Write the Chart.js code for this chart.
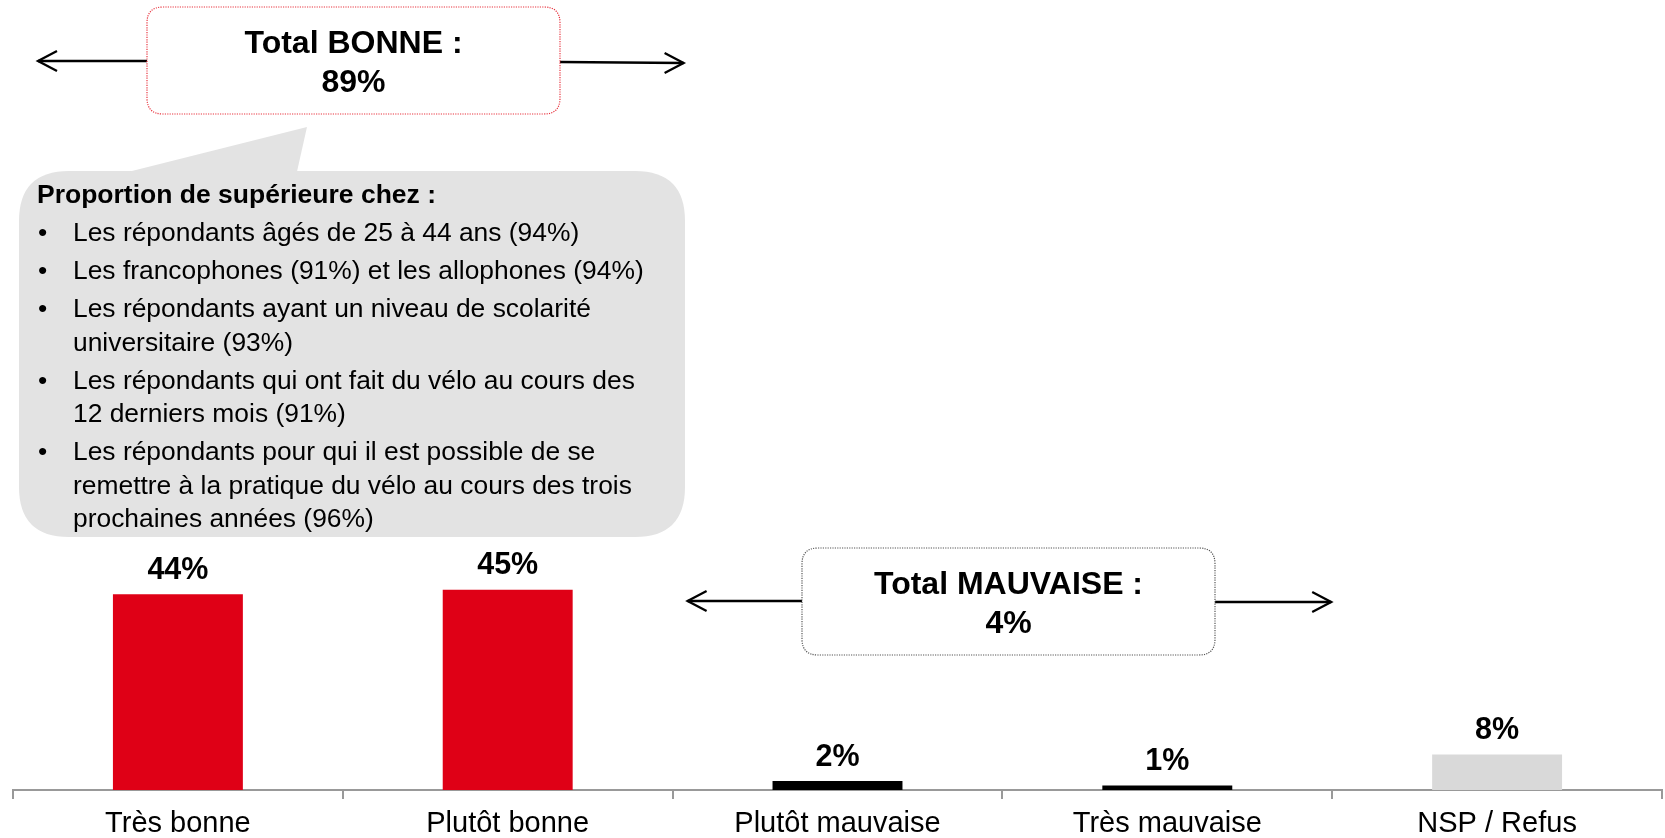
<!DOCTYPE html>
<html>
<head>
<meta charset="utf-8">
<script src="https://cdn.jsdelivr.net/npm/chart.js"></script>
<style>
  html, body { margin: 0; padding: 0; background: #fff; }
  #wrap { position: relative; width: 1665px; height: 838px; }
</style>
</head>
<body>
<div id="wrap"><canvas id="chart" width="1665" height="838"></canvas></div>
<script>
  // data
  const categories = ['Très bonne', 'Plutôt bonne', 'Plutôt mauvaise', 'Très mauvaise', 'NSP / Refus'];
  const values = [44, 45, 2, 1, 8];
  const barColors = ['#df0016', '#df0016', '#000000', '#000000', '#d9d9d9'];
  const totalGood = ['Total BONNE :', '89%'];
  const totalBad = ['Total MAUVAISE :', '4%'];
  const noteTitle = 'Proportion de supérieure chez :';
  const noteBullets = [
    ['Les répondants âgés de 25 à 44 ans (94%)'],
    ['Les francophones (91%) et les allophones (94%)'],
    ['Les répondants ayant un niveau de scolarité', 'universitaire (93%)'],
    ['Les répondants qui ont fait du vélo au cours des', '12 derniers mois (91%)'],
    ['Les répondants pour qui il est possible de se', 'remettre à la pratique du vélo au cours des trois', 'prochaines années (96%)']
  ];

  const FONT = '"Liberation Sans", Arial, sans-serif';

  function roundRect(ctx, x, y, w, h, r) {
    ctx.beginPath();
    ctx.moveTo(x + r, y);
    ctx.lineTo(x + w - r, y);
    ctx.quadraticCurveTo(x + w, y, x + w, y + r);
    ctx.lineTo(x + w, y + h - r);
    ctx.quadraticCurveTo(x + w, y + h, x + w - r, y + h);
    ctx.lineTo(x + r, y + h);
    ctx.quadraticCurveTo(x, y + h, x, y + h - r);
    ctx.lineTo(x, y + r);
    ctx.quadraticCurveTo(x, y, x + r, y);
    ctx.closePath();
  }

  function arrow(ctx, x1, y1, x2, y2) {
    const dir = x2 > x1 ? 1 : -1;
    ctx.save();
    ctx.strokeStyle = '#000';
    ctx.lineWidth = 2.3;
    ctx.beginPath();
    ctx.moveTo(x1, y1);
    ctx.lineTo(x2, y2);
    ctx.stroke();
    ctx.beginPath();
    ctx.moveTo(x2 - dir * 19, y2 - 10);
    ctx.lineTo(x2, y2);
    ctx.lineTo(x2 - dir * 19, y2 + 10);
    ctx.stroke();
    ctx.restore();
  }

  function totalBox(ctx, x, y, w, h, color, lines) {
    ctx.save();
    roundRect(ctx, x, y, w, h, 16);
    ctx.fillStyle = '#fff';
    ctx.fill();
    ctx.setLineDash([1.2, 1.2]);
    ctx.lineWidth = 1.2;
    ctx.strokeStyle = color;
    ctx.stroke();
    ctx.setLineDash([]);
    ctx.fillStyle = '#000';
    ctx.font = 'bold 32px ' + FONT;
    ctx.textAlign = 'center';
    ctx.textBaseline = 'middle';
    ctx.fillText(lines[0], x + w / 2, y + 37);
    ctx.fillText(lines[1], x + w / 2, y + 76);
    ctx.restore();
  }

  const valueLabels = {
    id: 'valueLabels',
    afterDatasetsDraw(chart) {
      const ctx = chart.ctx;
      const meta = chart.getDatasetMeta(0);
      ctx.save();
      ctx.fillStyle = '#000';
      ctx.font = 'bold 30.5px ' + FONT;
      ctx.textAlign = 'center';
      ctx.textBaseline = 'middle';
      meta.data.forEach((bar, i) => {
        ctx.fillText(values[i] + '%', bar.x, bar.y - 24);
      });
      ctx.restore();
    }
  };

  const notes = {
    id: 'notes',
    afterDraw(chart) {
      const ctx = chart.ctx;
      const xs = chart.scales.x;
      const half = (xs.getPixelForValue(1) - xs.getPixelForValue(0)) / 2;
      const leftOf = i => xs.getPixelForValue(i) - half;

      // Total BONNE (spans categories 0-1)
      arrow(ctx, 147, 61, leftOf(0) + 25, 61);
      arrow(ctx, 560, 62, leftOf(2) + 11, 63);
      totalBox(ctx, 147, 7, 413, 107, '#e8343f', totalGood);

      // Total MAUVAISE (spans categories 2-3)
      arrow(ctx, 802, 601, leftOf(2) + 15, 601);
      arrow(ctx, 1215, 602, leftOf(4) - 1, 602);
      totalBox(ctx, 802, 548, 413, 107, '#555', totalBad);

      // grey call-out bubble
      ctx.save();
      ctx.fillStyle = '#e3e3e3';
      roundRect(ctx, 19, 171, 666, 366, 50);
      ctx.fill();
      ctx.beginPath();
      ctx.moveTo(112, 176);
      ctx.lineTo(307, 127);
      ctx.lineTo(296, 176);
      ctx.closePath();
      ctx.fill();

      ctx.fillStyle = '#000';
      ctx.textBaseline = 'middle';
      ctx.textAlign = 'left';
      ctx.font = 'bold 26.5px ' + FONT;
      ctx.fillText(noteTitle, 37, 196);
      ctx.font = '26.4px ' + FONT;
      let y = 234;
      noteBullets.forEach(lines => {
        ctx.fillText('•', 38, y);
        lines.forEach((t, k) => {
          ctx.fillText(t, 73, y);
          y += k < lines.length - 1 ? 33.5 : 38;
        });
      });
      ctx.restore();
    }
  };

  const ctx = document.getElementById('chart').getContext('2d');
  new Chart(ctx, {
    type: 'bar',
    data: {
      labels: categories,
      datasets: [{
        data: values,
        backgroundColor: barColors,
        borderWidth: 0,
        barPercentage: 0.394,
        categoryPercentage: 1.0
      }]
    },
    options: {
      responsive: false,
      animation: false,
      layout: { padding: { left: 13, right: 3, top: 345, bottom: 0 } },
      plugins: { legend: { display: false }, tooltip: { enabled: false } },
      scales: {
        x: {
          afterFit(scale) { scale.height = 48; },
          grid: { drawOnChartArea: false, drawTicks: true, tickLength: 9, color: '#999', lineWidth: 2, offset: true },
          border: { display: true, color: '#999', width: 2 },
          ticks: { color: '#000', font: { family: FONT, size: 29, lineHeight: 1.2 }, padding: 8, maxRotation: 0, autoSkip: false }
        },
        y: { display: false, min: 0, max: 100 }
      }
    },
    plugins: [valueLabels, notes]
  });
</script>
</body>
</html>
